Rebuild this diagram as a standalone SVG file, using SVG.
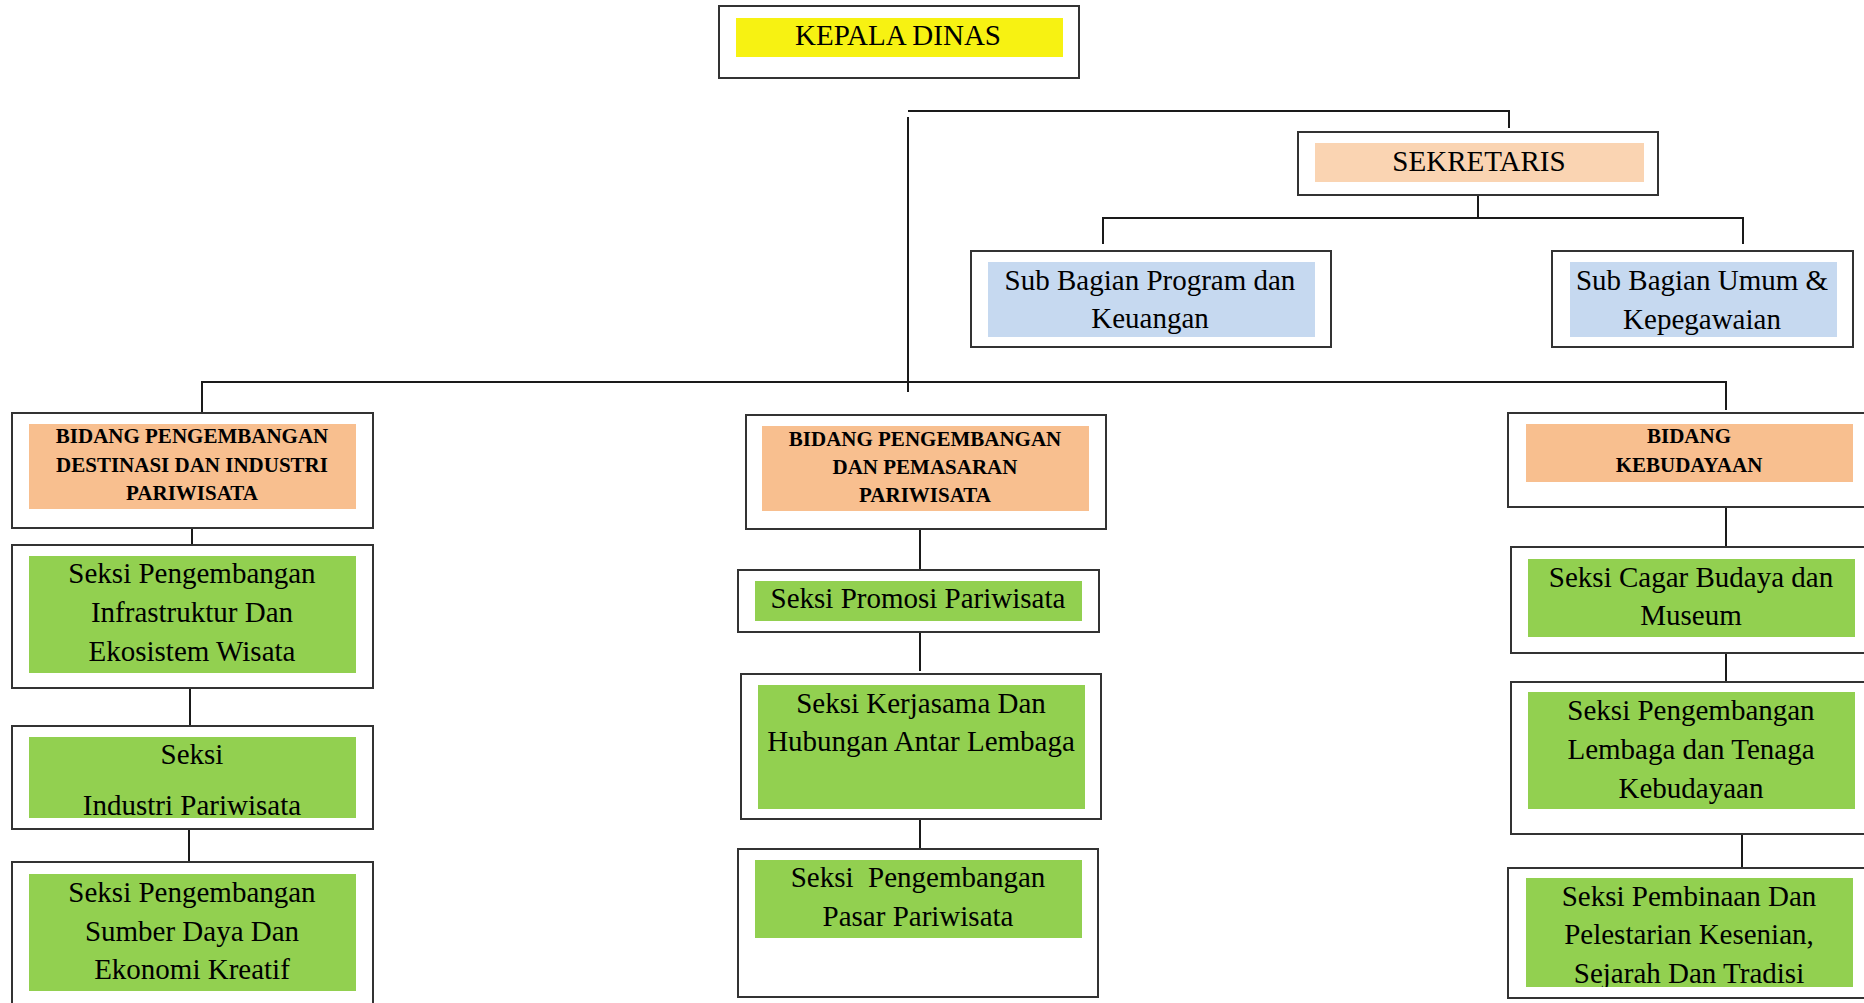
<svg xmlns="http://www.w3.org/2000/svg" width="1864" height="1003" viewBox="0 0 1864 1003">
<style>
.box{fill:#fff;stroke:#333;stroke-width:2}
.yellow{fill:#F7F212}
.peach1{fill:#FAD4B2}
.peach{fill:#F8BF8F}
.blue{fill:#C6D9F0}
.green{fill:#92D050}
.t{font-family:"Liberation Serif","Times New Roman",serif;font-size:29px;fill:#000;text-anchor:middle}
.b{font-family:"Liberation Serif","Times New Roman",serif;font-size:21px;font-weight:bold;fill:#000;text-anchor:middle}
.ln{stroke:#1a1a1a;stroke-width:2;fill:none}
</style>
<defs>
<clipPath id="clipPemb"><rect x="1526" y="878" width="327" height="109"/></clipPath>
</defs>
<rect width="1864" height="1003" fill="#fff"/>
<g id="connectors">
<path class="ln" d="M908 111H1509V128"/>
<path class="ln" d="M908 117V392"/>
<path class="ln" d="M202 412V382H1726V410"/>
<path class="ln" d="M1478 195V218"/>
<path class="ln" d="M1103 244V218H1743V244"/>
<path class="ln" d="M192 509V546"/>
<path class="ln" d="M190 686V726"/>
<path class="ln" d="M189 823V862"/>
<path class="ln" d="M920 529V569"/>
<path class="ln" d="M920 632V671"/>
<path class="ln" d="M920 811V849"/>
<path class="ln" d="M1726 507V546"/>
<path class="ln" d="M1726 653V683"/>
<path class="ln" d="M1742 835V867"/>
</g>
<g id="kepala-dinas">
<rect class="box" x="719" y="6" width="360" height="72"/>
<rect class="yellow" x="736" y="18" width="327" height="39"/>
<text class="t" x="898" y="45">KEPALA DINAS</text>
</g>
<g id="sekretaris">
<rect class="box" x="1298" y="132" width="360" height="63"/>
<rect class="peach1" x="1315" y="143" width="329" height="39"/>
<text class="t" x="1479" y="171">SEKRETARIS</text>
</g>
<g id="sub-program">
<rect class="box" x="971" y="251" width="360" height="96"/>
<rect class="blue" x="988" y="262" width="327" height="75"/>
<text class="t" x="1150" y="290">Sub Bagian Program dan</text>
<text class="t" x="1150" y="328">Keuangan</text>
</g>
<g id="sub-umum">
<rect class="box" x="1552" y="251" width="301" height="96"/>
<rect class="blue" x="1570" y="262" width="267" height="75"/>
<text class="t" x="1702" y="290">Sub Bagian Umum &amp;</text>
<text class="t" x="1702" y="329">Kepegawaian</text>
</g>
<g id="bidang-destinasi">
<rect class="box" x="12" y="413" width="361" height="115"/>
<rect class="peach" x="29" y="424" width="327" height="85"/>
<text class="b" x="192" y="443">BIDANG PENGEMBANGAN</text>
<text class="b" x="192" y="472">DESTINASI DAN INDUSTRI</text>
<text class="b" x="192" y="500">PARIWISATA</text>
</g>
<g id="seksi-infrastruktur">
<rect class="box" x="12" y="545" width="361" height="143"/>
<rect class="green" x="29" y="556" width="327" height="117"/>
<text class="t" x="192" y="583">Seksi Pengembangan</text>
<text class="t" x="192" y="622">Infrastruktur Dan</text>
<text class="t" x="192" y="661">Ekosistem Wisata</text>
</g>
<g id="seksi-industri">
<rect class="box" x="12" y="726" width="361" height="103"/>
<rect class="green" x="29" y="737" width="327" height="81"/>
<text class="t" x="192" y="764">Seksi</text>
<text class="t" x="192" y="815">Industri Pariwisata</text>
</g>
<g id="seksi-sumber-daya">
<rect class="box" x="12" y="862" width="361" height="150"/>
<rect class="green" x="29" y="874" width="327" height="117"/>
<text class="t" x="192" y="902">Seksi Pengembangan</text>
<text class="t" x="192" y="941">Sumber Daya Dan</text>
<text class="t" x="192" y="979">Ekonomi Kreatif</text>
</g>
<g id="bidang-pemasaran">
<rect class="box" x="746" y="415" width="360" height="114"/>
<rect class="peach" x="762" y="426" width="327" height="85"/>
<text class="b" x="925" y="446">BIDANG PENGEMBANGAN</text>
<text class="b" x="925" y="474">DAN PEMASARAN</text>
<text class="b" x="925" y="502">PARIWISATA</text>
</g>
<g id="seksi-promosi">
<rect class="box" x="738" y="570" width="361" height="62"/>
<rect class="green" x="755" y="581" width="327" height="40"/>
<text class="t" x="918" y="608">Seksi Promosi Pariwisata</text>
</g>
<g id="seksi-kerjasama">
<rect class="box" x="741" y="674" width="360" height="145"/>
<rect class="green" x="758" y="685" width="327" height="124"/>
<text class="t" x="921" y="713">Seksi Kerjasama Dan</text>
<text class="t" x="921" y="751">Hubungan Antar Lembaga</text>
</g>
<g id="seksi-pasar">
<rect class="box" x="738" y="849" width="360" height="148"/>
<rect class="green" x="755" y="860" width="327" height="78"/>
<text class="t" x="918" y="887" xml:space="preserve">Seksi  Pengembangan</text>
<text class="t" x="918" y="926">Pasar Pariwisata</text>
</g>
<g id="bidang-kebudayaan">
<rect class="box" x="1508" y="413" width="370" height="94"/>
<rect class="peach" x="1526" y="424" width="327" height="58"/>
<text class="b" x="1689" y="443">BIDANG</text>
<text class="b" x="1689" y="472">KEBUDAYAAN</text>
</g>
<g id="seksi-cagar-budaya">
<rect class="box" x="1511" y="547" width="367" height="106"/>
<rect class="green" x="1528" y="559" width="327" height="78"/>
<text class="t" x="1691" y="587">Seksi Cagar Budaya dan</text>
<text class="t" x="1691" y="625">Museum</text>
</g>
<g id="seksi-lembaga">
<rect class="box" x="1511" y="682" width="367" height="152"/>
<rect class="green" x="1528" y="692" width="327" height="117"/>
<text class="t" x="1691" y="720">Seksi Pengembangan</text>
<text class="t" x="1691" y="759">Lembaga dan Tenaga</text>
<text class="t" x="1691" y="798">Kebudayaan</text>
</g>
<g id="seksi-pembinaan">
<rect class="box" x="1508" y="868" width="370" height="130"/>
<rect class="green" x="1526" y="878" width="327" height="109"/>
<g clip-path="url(#clipPemb)">
<text class="t" x="1689" y="906">Seksi Pembinaan Dan</text>
<text class="t" x="1689" y="944">Pelestarian Kesenian,</text>
<text class="t" x="1689" y="983">Sejarah Dan Tradisi</text>
</g>
</g>
</svg>
